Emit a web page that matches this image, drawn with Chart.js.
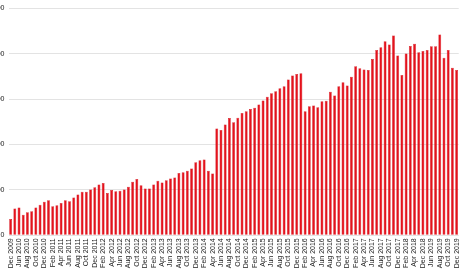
<!DOCTYPE html>
<html>
<head>
<meta charset="utf-8">
<script src="https://cdn.jsdelivr.net/npm/chart.js@4"></script>
<style>
  html, body { margin: 0; padding: 0; background: #fff; overflow: hidden; }
  #wrap { width: 468px; height: 270px; position: relative; }
</style>
</head>
<body>
<div id="wrap"><canvas id="monthlyChart"></canvas></div>
<script>
const months = [
  "Dec 2009", "May 2010", "Jun 2010", "Jul 2010", "Aug 2010", "Sep 2010", "Oct 2010", "Nov 2010", "Dec 2010",
  "Jan 2011", "Feb 2011", "Mar 2011", "Apr 2011", "May 2011", "Jun 2011", "Jul 2011", "Aug 2011", "Sep 2011", "Oct 2011", "Nov 2011", "Dec 2011",
  "Jan 2012", "Feb 2012", "Mar 2012", "Apr 2012", "May 2012", "Jun 2012", "Jul 2012", "Aug 2012", "Sep 2012", "Oct 2012", "Nov 2012", "Dec 2012",
  "Jan 2013", "Feb 2013", "Mar 2013", "Apr 2013", "May 2013", "Jun 2013", "Jul 2013", "Aug 2013", "Sep 2013", "Oct 2013", "Nov 2013", "Dec 2013",
  "Jan 2014", "Feb 2014", "Mar 2014", "Apr 2014", "May 2014", "Jun 2014", "Jul 2014", "Aug 2014", "Sep 2014", "Oct 2014", "Nov 2014", "Dec 2014",
  "Jan 2015", "Feb 2015", "Mar 2015", "Apr 2015", "May 2015", "Jun 2015", "Jul 2015", "Aug 2015", "Sep 2015", "Oct 2015", "Nov 2015", "Dec 2015",
  "Jan 2016", "Feb 2016", "Mar 2016", "Apr 2016", "May 2016", "Jun 2016", "Jul 2016", "Aug 2016", "Sep 2016", "Oct 2016", "Nov 2016", "Dec 2016",
  "Jan 2017", "Feb 2017", "Mar 2017", "Apr 2017", "May 2017", "Jun 2017", "Jul 2017", "Aug 2017", "Sep 2017", "Oct 2017", "Nov 2017", "Dec 2017",
  "Jan 2018", "Feb 2018", "Mar 2018", "Apr 2018", "Jun 2018", "Dec 2018", "Apr 2019",
  "Jun 2019", "Jul 2019", "Aug 2019", "Sep 2019", "Oct 2019", "Nov 2019", "Dec 2019"
];

const values = [
  36, 59, 61, 45, 51, 53, 61, 67, 74,
  77, 64, 66, 71, 77, 75, 83, 90, 96, 96, 101, 106,
  112, 115, 93, 100, 97, 98, 101, 107, 118, 124, 110, 103,
  103, 112, 120, 116, 121, 125, 127, 137, 139, 142, 147, 161,
  165, 167, 142, 136, 235, 232, 244, 258, 249, 259, 269, 273,
  278, 281, 288, 297, 305, 313, 317, 324, 328, 343, 352, 355,
  357, 273, 284, 286, 282, 295, 296, 316, 308, 328, 337, 330,
  349, 372, 368, 365, 364, 388, 408, 414, 427, 420, 440, 396,
  353, 400, 417, 422, 403, 406, 408,
  416, 416, 442, 391, 408, 369, 364
];

const yTicks = [0, 100, 200, 300, 400, 500];

const ctx = document.getElementById("monthlyChart").getContext("2d");
new Chart(ctx, {
  type: "bar",
  data: {
    labels: months,
    datasets: [
      {
        data: values,
        backgroundColor: "rgb(228, 18, 28)",
        borderColor: "rgb(205, 12, 20)",
        borderWidth: 0.5,
        barPercentage: 0.68,
        categoryPercentage: 1,
      },
    ],
  },
  options: {
    responsive: true,
    maintainAspectRatio: false,
    animation: false,
    layout: { padding: { top: 7, right: 0, left: 0, bottom: 0 } },
    plugins: {
      legend: { display: false },
      tooltip: { enabled: false },
    },
    scales: {
      x: {
        grid: { display: false, drawTicks: false },
        border: { display: false },
        afterFit: (scale) => {
          scale.height = 34.7;
        },
        ticks: {
          autoSkip: false,
          maxRotation: 90,
          minRotation: 90,
          padding: 3,
          color: "#222",
          font: { family: "Liberation Sans, Arial, sans-serif", size: 7 },
          callback: function (value, index) {
            return index % 2 === 0 ? months[index] : "";
          },
        },
      },
      y: {
        min: 0,
        max: 500,
        afterFit: (scale) => {
          scale.width = 8.5;
        },
        afterBuildTicks: (scale) => {
          scale.ticks = yTicks.map((v) => ({ value: v }));
        },
        grid: { color: "#e3e3e3", lineWidth: 1, drawTicks: false },
        border: { display: false },
        ticks: {
          padding: 4,
          color: "#222",
          font: { family: "Liberation Sans, Arial, sans-serif", size: 7 },
        },
      },
    },
  },
});
</script>
</body>
</html>
